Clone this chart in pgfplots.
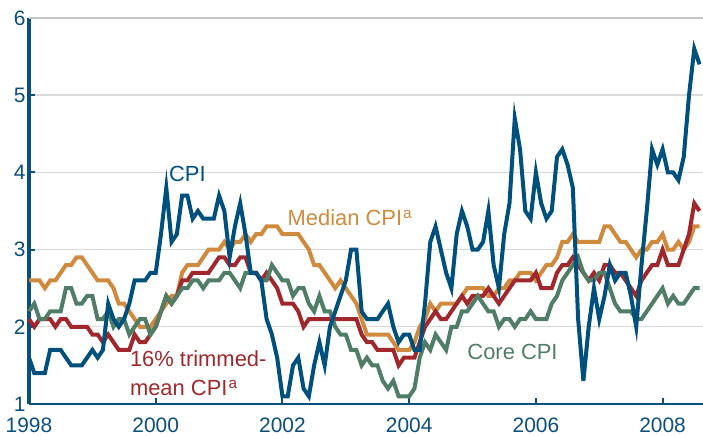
\documentclass[border=0pt]{standalone}
\usepackage{fontspec}
\setmainfont{Liberation Sans}
\usepackage{pgfplots}
\usepackage{pgfplotstable}
\pgfplotsset{compat=1.18}
\definecolor{cpiblue}{HTML}{00507D}
\definecolor{medorange}{HTML}{D08A3E}
\definecolor{trimred}{HTML}{A0282C}
\definecolor{coregreen}{HTML}{4F7D65}
\definecolor{axblue}{HTML}{0B4F7C}
\definecolor{gridgray}{HTML}{DADADA}
\definecolor{topgray}{HTML}{C6C6C6}

\pgfplotstableread{
m cpi core med trim
0 1.6 2.2 2.6 2.1
1 1.4 2.3 2.6 2.0
2 1.4 2.1 2.6 2.1
3 1.4 2.1 2.5 2.1
4 1.7 2.2 2.6 2.1
5 1.7 2.2 2.6 2.0
6 1.7 2.2 2.7 2.1
7 1.6 2.5 2.8 2.1
8 1.5 2.5 2.8 2.0
9 1.5 2.3 2.9 2.0
10 1.5 2.3 2.9 2.0
11 1.6 2.4 2.8 2.0
12 1.7 2.4 2.7 1.9
13 1.6 2.1 2.6 1.9
14 1.7 2.1 2.6 1.8
15 2.3 2.2 2.6 1.9
16 2.1 2.0 2.5 1.8
17 2.0 2.1 2.3 1.7
18 2.1 2.1 2.3 1.7
19 2.3 1.9 2.2 1.7
20 2.6 2.0 2.1 1.9
21 2.6 2.1 2.0 1.8
22 2.6 2.1 2.0 1.8
23 2.7 1.9 2.0 1.9
24 2.7 2.0 2.1 2.0
25 3.2 2.2 2.2 2.2
26 3.8 2.4 2.3 2.4
27 3.1 2.3 2.4 2.3
28 3.2 2.4 2.4 2.4
29 3.7 2.5 2.7 2.6
30 3.7 2.5 2.8 2.6
31 3.4 2.6 2.8 2.7
32 3.5 2.6 2.8 2.7
33 3.4 2.5 2.9 2.7
34 3.4 2.6 3.0 2.7
35 3.4 2.6 3.0 2.8
36 3.7 2.6 3.0 2.9
37 3.5 2.7 3.1 2.9
38 2.9 2.7 3.0 2.8
39 3.3 2.6 3.1 2.8
40 3.6 2.5 3.1 2.9
41 3.2 2.7 3.2 2.9
42 2.7 2.7 3.1 2.7
43 2.7 2.7 3.2 2.7
44 2.6 2.6 3.2 2.6
45 2.1 2.6 3.3 2.7
46 1.9 2.8 3.3 2.6
47 1.6 2.7 3.3 2.5
48 1.1 2.6 3.2 2.3
49 1.1 2.6 3.2 2.3
50 1.5 2.4 3.2 2.3
51 1.6 2.5 3.2 2.2
52 1.2 2.5 3.1 2.0
53 1.1 2.3 3.0 2.1
54 1.5 2.2 2.8 2.1
55 1.8 2.4 2.8 2.1
56 1.5 2.2 2.7 2.1
57 2.0 2.2 2.6 2.1
58 2.2 2.0 2.5 2.1
59 2.4 1.9 2.6 2.1
60 2.6 1.9 2.5 2.1
61 3.0 1.7 2.4 2.1
62 3.0 1.7 2.3 2.1
63 2.2 1.5 2.1 1.9
64 2.1 1.6 1.9 1.8
65 2.1 1.5 1.9 1.8
66 2.1 1.5 1.9 1.7
67 2.2 1.3 1.9 1.7
68 2.3 1.2 1.9 1.7
69 2.0 1.3 1.8 1.7
70 1.8 1.1 1.7 1.5
71 1.9 1.1 1.7 1.6
72 1.9 1.1 1.7 1.6
73 1.7 1.2 1.8 1.6
74 1.7 1.6 2.0 1.8
75 2.3 1.8 2.1 2.0
76 3.1 1.7 2.3 2.1
77 3.3 1.9 2.2 2.2
78 3.0 1.8 2.3 2.1
79 2.7 1.7 2.3 2.1
80 2.5 2.0 2.3 2.2
81 3.2 2.0 2.3 2.3
82 3.5 2.2 2.4 2.4
83 3.3 2.2 2.5 2.3
84 3.0 2.3 2.5 2.4
85 3.0 2.4 2.5 2.4
86 3.1 2.3 2.5 2.4
87 3.5 2.2 2.4 2.5
88 2.8 2.2 2.4 2.4
89 2.5 2.0 2.5 2.3
90 3.2 2.1 2.5 2.4
91 3.6 2.1 2.6 2.5
92 4.7 2.0 2.6 2.6
93 4.3 2.1 2.7 2.6
94 3.5 2.1 2.7 2.6
95 3.4 2.2 2.7 2.6
96 4.0 2.1 2.6 2.7
97 3.6 2.1 2.7 2.5
98 3.4 2.1 2.8 2.5
99 3.5 2.3 2.8 2.5
100 4.2 2.4 2.9 2.7
101 4.3 2.6 3.1 2.8
102 4.1 2.7 3.1 2.8
103 3.8 2.8 3.2 2.9
104 2.1 2.9 3.1 2.8
105 1.3 2.7 3.1 2.7
106 2.0 2.6 3.1 2.6
107 2.5 2.6 3.1 2.7
108 2.1 2.7 3.1 2.6
109 2.4 2.7 3.3 2.8
110 2.8 2.5 3.3 2.8
111 2.6 2.3 3.2 2.7
112 2.7 2.2 3.1 2.7
113 2.7 2.2 3.1 2.6
114 2.4 2.2 3.0 2.5
115 2.0 2.1 2.9 2.4
116 2.8 2.1 3.0 2.6
117 3.5 2.2 3.0 2.7
118 4.3 2.3 3.1 2.8
119 4.1 2.4 3.1 2.8
120 4.3 2.5 3.2 3.0
121 4.0 2.3 3.0 2.8
122 4.0 2.4 3.0 2.8
123 3.9 2.3 3.1 2.8
124 4.2 2.3 3.0 3.0
125 5.0 2.4 3.1 3.2
126 5.6 2.5 3.3 3.6
127 5.4 2.5 3.3 3.5
}\datatab

\begin{document}
\begin{tikzpicture}
\begin{axis}[
  scale only axis, width=674bp, height=386bp,
  xmin=0, xmax=127.65, ymin=1, ymax=6,
  axis x line*=bottom, axis y line*=left,
  x axis line style={draw=axblue, line width=2.4bp, -},
  y axis line style={draw=axblue, line width=3bp, -},
  xtick={0,24,48,72,96,120},
  xticklabels={1998,2000,2002,2004,2006,2008},
  ytick={1,2,3,4,5,6},
  tick align=inside,
  major tick length=6bp,
  tick style={draw=axblue, line width=2bp},
  ymajorgrids,
  major grid style={draw=gridgray, line width=1.4bp},
  ticklabel style={font=\fontsize{21}{25}\selectfont, text=axblue},
  xticklabel style={yshift=-10.5bp},
  /pgf/number format/assume math mode=true,
  clip=false,
  every axis plot/.append style={line width=4bp, mark=none},
]
\draw[draw=topgray, line width=2.6bp] (axis cs:0,6) -- (axis cs:127.65,6);
\addplot[medorange] table[x=m, y=med] {\datatab};
\addplot[trimred] table[x=m, y=trim] {\datatab};
\addplot[coregreen] table[x=m, y=core] {\datatab};
\addplot[cpiblue] table[x=m, y=cpi] {\datatab};
\node[anchor=base west, inner sep=0, text=cpiblue, font=\fontsize{22}{26}\selectfont] at (axis cs:26.5,3.876) {CPI};
\node[anchor=base west, inner sep=0, text=medorange, font=\fontsize{22}{26}\selectfont] at (axis cs:48.96,3.306) {Median CPI\textsuperscript{\kern1bp a}};
\node[anchor=base west, inner sep=0, text=trimred, font=\fontsize{22}{26}\selectfont] at (axis cs:19.1,1.483) {16\% trimmed-};
\node[anchor=base west, inner sep=0, text=trimred, font=\fontsize{22}{26}\selectfont] at (axis cs:19.1,1.104) {mean CPI\textsuperscript{\kern1bp a}};
\node[anchor=base west, inner sep=0, text=coregreen, font=\fontsize{22}{26}\selectfont] at (axis cs:83.0,1.579) {Core CPI};
\coordinate (BL) at (rel axis cs:0,0);
\coordinate (TR) at (rel axis cs:1,1);
\end{axis}
\pgfresetboundingbox
\path[use as bounding box] ([shift={(-29bp,-32bp)}]BL) rectangle ([shift={(0bp,18bp)}]TR);
\end{tikzpicture}
\end{document}
